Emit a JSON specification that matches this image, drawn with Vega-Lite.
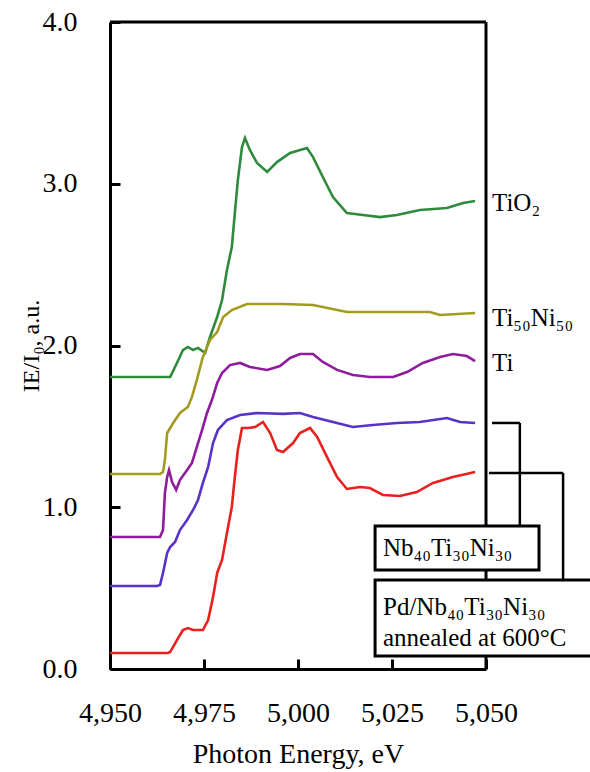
{
  "$schema": "https://vega.github.io/schema/vega-lite/v6.json",
  "autosize": {"type": "none"},
  "padding": {"left": 110, "top": 22, "right": 104, "bottom": 103},
  "width": 376,
  "height": 647,
  "background": "white",
  "config": {
    "view": {"stroke": null},
    "font": "Liberation Serif",
    "axis": {"grid": false},
    "text": {"fontWeight": "normal"}
  },
  "datasets": {
    "one": [{}],
    "spectra": [
      {"s": "TiO2", "x": 4950, "y": 1.805}, {"s": "TiO2", "x": 4966.0, "y": 1.805}, {"s": "TiO2", "x": 4967.8, "y": 1.892}, {"s": "TiO2", "x": 4969.4, "y": 1.972}, {"s": "TiO2", "x": 4970.7, "y": 1.991}, {"s": "TiO2", "x": 4972.1, "y": 1.972}, {"s": "TiO2", "x": 4973.4, "y": 1.985}, {"s": "TiO2", "x": 4975.3, "y": 1.954}, {"s": "TiO2", "x": 4976.6, "y": 2.053}, {"s": "TiO2", "x": 4978.5, "y": 2.176}, {"s": "TiO2", "x": 4979.8, "y": 2.281}, {"s": "TiO2", "x": 4981.1, "y": 2.467}, {"s": "TiO2", "x": 4982.4, "y": 2.609}, {"s": "TiO2", "x": 4983.2, "y": 2.819}, {"s": "TiO2", "x": 4984.0, "y": 3.023}, {"s": "TiO2", "x": 4985.1, "y": 3.227}, {"s": "TiO2", "x": 4985.9, "y": 3.283}, {"s": "TiO2", "x": 4987.2, "y": 3.209}, {"s": "TiO2", "x": 4989.1, "y": 3.128}, {"s": "TiO2", "x": 4991.8, "y": 3.073}, {"s": "TiO2", "x": 4994.4, "y": 3.134}, {"s": "TiO2", "x": 4997.9, "y": 3.190}, {"s": "TiO2", "x": 5002.4, "y": 3.221}, {"s": "TiO2", "x": 5004.0, "y": 3.165}, {"s": "TiO2", "x": 5006.6, "y": 3.042}, {"s": "TiO2", "x": 5009.3, "y": 2.918}, {"s": "TiO2", "x": 5013.0, "y": 2.819}, {"s": "TiO2", "x": 5017.3, "y": 2.807}, {"s": "TiO2", "x": 5021.8, "y": 2.794}, {"s": "TiO2", "x": 5026.3, "y": 2.807}, {"s": "TiO2", "x": 5032.4, "y": 2.838}, {"s": "TiO2", "x": 5039.6, "y": 2.850}, {"s": "TiO2", "x": 5043.9, "y": 2.881}, {"s": "TiO2", "x": 5047.1, "y": 2.893},

      {"s": "Ti50Ni50", "x": 4950, "y": 1.206}, {"s": "Ti50Ni50", "x": 4963.3, "y": 1.206}, {"s": "Ti50Ni50", "x": 4964.1, "y": 1.218}, {"s": "Ti50Ni50", "x": 4964.6, "y": 1.292}, {"s": "Ti50Ni50", "x": 4965.2, "y": 1.459}, {"s": "Ti50Ni50", "x": 4966.8, "y": 1.521}, {"s": "Ti50Ni50", "x": 4968.6, "y": 1.583}, {"s": "Ti50Ni50", "x": 4970.7, "y": 1.620}, {"s": "Ti50Ni50", "x": 4971.8, "y": 1.682}, {"s": "Ti50Ni50", "x": 4973.1, "y": 1.787}, {"s": "Ti50Ni50", "x": 4974.7, "y": 1.929}, {"s": "Ti50Ni50", "x": 4976.6, "y": 2.034}, {"s": "Ti50Ni50", "x": 4978.5, "y": 2.083}, {"s": "Ti50Ni50", "x": 4980.1, "y": 2.176}, {"s": "Ti50Ni50", "x": 4982.4, "y": 2.219}, {"s": "Ti50Ni50", "x": 4986.4, "y": 2.257}, {"s": "Ti50Ni50", "x": 4996.0, "y": 2.257}, {"s": "Ti50Ni50", "x": 5004.0, "y": 2.250}, {"s": "Ti50Ni50", "x": 5013.0, "y": 2.207}, {"s": "Ti50Ni50", "x": 5021.8, "y": 2.207}, {"s": "Ti50Ni50", "x": 5035.1, "y": 2.207}, {"s": "Ti50Ni50", "x": 5037.8, "y": 2.189}, {"s": "Ti50Ni50", "x": 5047.1, "y": 2.201},

      {"s": "Ti", "x": 4950, "y": 0.816}, {"s": "Ti", "x": 4963.3, "y": 0.816}, {"s": "Ti", "x": 4964.1, "y": 0.859}, {"s": "Ti", "x": 4964.6, "y": 1.088}, {"s": "Ti", "x": 4965.2, "y": 1.187}, {"s": "Ti", "x": 4965.7, "y": 1.230}, {"s": "Ti", "x": 4966.5, "y": 1.156}, {"s": "Ti", "x": 4967.6, "y": 1.107}, {"s": "Ti", "x": 4968.6, "y": 1.168}, {"s": "Ti", "x": 4970.5, "y": 1.230}, {"s": "Ti", "x": 4971.8, "y": 1.274}, {"s": "Ti", "x": 4973.1, "y": 1.373}, {"s": "Ti", "x": 4974.5, "y": 1.478}, {"s": "Ti", "x": 4975.8, "y": 1.583}, {"s": "Ti", "x": 4977.1, "y": 1.663}, {"s": "Ti", "x": 4978.5, "y": 1.768}, {"s": "Ti", "x": 4979.8, "y": 1.830}, {"s": "Ti", "x": 4981.9, "y": 1.879}, {"s": "Ti", "x": 4984.6, "y": 1.892}, {"s": "Ti", "x": 4987.2, "y": 1.867}, {"s": "Ti", "x": 4991.8, "y": 1.849}, {"s": "Ti", "x": 4995.2, "y": 1.873}, {"s": "Ti", "x": 4997.9, "y": 1.923}, {"s": "Ti", "x": 5000.5, "y": 1.947}, {"s": "Ti", "x": 5004.0, "y": 1.947}, {"s": "Ti", "x": 5006.6, "y": 1.898}, {"s": "Ti", "x": 5010.4, "y": 1.849}, {"s": "Ti", "x": 5014.6, "y": 1.818}, {"s": "Ti", "x": 5019.1, "y": 1.805}, {"s": "Ti", "x": 5025.3, "y": 1.805}, {"s": "Ti", "x": 5029.0, "y": 1.836}, {"s": "Ti", "x": 5033.2, "y": 1.892}, {"s": "Ti", "x": 5037.8, "y": 1.929}, {"s": "Ti", "x": 5041.2, "y": 1.947}, {"s": "Ti", "x": 5044.9, "y": 1.935}, {"s": "Ti", "x": 5047.1, "y": 1.904},

      {"s": "Nb40Ti30Ni30", "x": 4950, "y": 0.513}, {"s": "Nb40Ti30Ni30", "x": 4962.5, "y": 0.513}, {"s": "Nb40Ti30Ni30", "x": 4963.3, "y": 0.519}, {"s": "Nb40Ti30Ni30", "x": 4964.1, "y": 0.594}, {"s": "Nb40Ti30Ni30", "x": 4965.2, "y": 0.717}, {"s": "Nb40Ti30Ni30", "x": 4966.0, "y": 0.754}, {"s": "Nb40Ti30Ni30", "x": 4967.3, "y": 0.785}, {"s": "Nb40Ti30Ni30", "x": 4968.6, "y": 0.859}, {"s": "Nb40Ti30Ni30", "x": 4970.5, "y": 0.921}, {"s": "Nb40Ti30Ni30", "x": 4972.1, "y": 0.983}, {"s": "Nb40Ti30Ni30", "x": 4973.4, "y": 1.045}, {"s": "Nb40Ti30Ni30", "x": 4974.7, "y": 1.150}, {"s": "Nb40Ti30Ni30", "x": 4976.1, "y": 1.249}, {"s": "Nb40Ti30Ni30", "x": 4977.4, "y": 1.397}, {"s": "Nb40Ti30Ni30", "x": 4978.7, "y": 1.478}, {"s": "Nb40Ti30Ni30", "x": 4981.1, "y": 1.539}, {"s": "Nb40Ti30Ni30", "x": 4984.6, "y": 1.570}, {"s": "Nb40Ti30Ni30", "x": 4989.1, "y": 1.583}, {"s": "Nb40Ti30Ni30", "x": 4996.0, "y": 1.577}, {"s": "Nb40Ti30Ni30", "x": 5000.5, "y": 1.583}, {"s": "Nb40Ti30Ni30", "x": 5004.0, "y": 1.558}, {"s": "Nb40Ti30Ni30", "x": 5009.3, "y": 1.527}, {"s": "Nb40Ti30Ni30", "x": 5014.6, "y": 1.496}, {"s": "Nb40Ti30Ni30", "x": 5019.9, "y": 1.508}, {"s": "Nb40Ti30Ni30", "x": 5026.3, "y": 1.521}, {"s": "Nb40Ti30Ni30", "x": 5032.4, "y": 1.527}, {"s": "Nb40Ti30Ni30", "x": 5039.6, "y": 1.552}, {"s": "Nb40Ti30Ni30", "x": 5043.1, "y": 1.527}, {"s": "Nb40Ti30Ni30", "x": 5047.1, "y": 1.521},

      {"s": "Pd/Nb40Ti30Ni30", "x": 4950, "y": 0.099}, {"s": "Pd/Nb40Ti30Ni30", "x": 4965.4, "y": 0.099}, {"s": "Pd/Nb40Ti30Ni30", "x": 4966.0, "y": 0.105}, {"s": "Pd/Nb40Ti30Ni30", "x": 4967.8, "y": 0.179}, {"s": "Pd/Nb40Ti30Ni30", "x": 4969.4, "y": 0.241}, {"s": "Pd/Nb40Ti30Ni30", "x": 4970.7, "y": 0.253}, {"s": "Pd/Nb40Ti30Ni30", "x": 4972.1, "y": 0.241}, {"s": "Pd/Nb40Ti30Ni30", "x": 4974.7, "y": 0.241}, {"s": "Pd/Nb40Ti30Ni30", "x": 4976.1, "y": 0.303}, {"s": "Pd/Nb40Ti30Ni30", "x": 4977.4, "y": 0.445}, {"s": "Pd/Nb40Ti30Ni30", "x": 4978.5, "y": 0.594}, {"s": "Pd/Nb40Ti30Ni30", "x": 4979.8, "y": 0.674}, {"s": "Pd/Nb40Ti30Ni30", "x": 4981.1, "y": 0.841}, {"s": "Pd/Nb40Ti30Ni30", "x": 4982.4, "y": 1.002}, {"s": "Pd/Nb40Ti30Ni30", "x": 4983.2, "y": 1.187}, {"s": "Pd/Nb40Ti30Ni30", "x": 4984.0, "y": 1.354}, {"s": "Pd/Nb40Ti30Ni30", "x": 4985.1, "y": 1.490}, {"s": "Pd/Nb40Ti30Ni30", "x": 4986.7, "y": 1.490}, {"s": "Pd/Nb40Ti30Ni30", "x": 4988.6, "y": 1.496}, {"s": "Pd/Nb40Ti30Ni30", "x": 4990.7, "y": 1.527}, {"s": "Pd/Nb40Ti30Ni30", "x": 4992.6, "y": 1.459}, {"s": "Pd/Nb40Ti30Ni30", "x": 4994.4, "y": 1.354}, {"s": "Pd/Nb40Ti30Ni30", "x": 4996.0, "y": 1.342}, {"s": "Pd/Nb40Ti30Ni30", "x": 4998.7, "y": 1.397}, {"s": "Pd/Nb40Ti30Ni30", "x": 5000.5, "y": 1.459}, {"s": "Pd/Nb40Ti30Ni30", "x": 5003.2, "y": 1.490}, {"s": "Pd/Nb40Ti30Ni30", "x": 5005.1, "y": 1.434}, {"s": "Pd/Nb40Ti30Ni30", "x": 5007.7, "y": 1.311}, {"s": "Pd/Nb40Ti30Ni30", "x": 5010.4, "y": 1.187}, {"s": "Pd/Nb40Ti30Ni30", "x": 5013.0, "y": 1.113}, {"s": "Pd/Nb40Ti30Ni30", "x": 5016.5, "y": 1.125}, {"s": "Pd/Nb40Ti30Ni30", "x": 5019.1, "y": 1.119}, {"s": "Pd/Nb40Ti30Ni30", "x": 5022.6, "y": 1.076}, {"s": "Pd/Nb40Ti30Ni30", "x": 5027.1, "y": 1.070}, {"s": "Pd/Nb40Ti30Ni30", "x": 5031.6, "y": 1.094}, {"s": "Pd/Nb40Ti30Ni30", "x": 5035.9, "y": 1.150}, {"s": "Pd/Nb40Ti30Ni30", "x": 5041.2, "y": 1.187}, {"s": "Pd/Nb40Ti30Ni30", "x": 5047.1, "y": 1.218}
    ]
  },
  "layer": [
    {
      "data": {"name": "spectra"},
      "mark": {"type": "line", "strokeWidth": 2.6, "clip": true},
      "encoding": {
        "x": {
          "field": "x", "type": "quantitative",
          "scale": {"domain": [4950, 5050], "nice": false, "zero": false},
          "axis": {
            "values": [4950, 4975, 5000, 5025, 5050],
            "labelExpr": "format(datum.value, ',')",
            "domainColor": "black", "domainWidth": 3,
            "tickColor": "black", "tickWidth": 3, "tickSize": -10,
            "labelFont": "Liberation Serif", "labelFontSize": 28, "labelColor": "black",
            "labelPadding": 40, "labelFlush": false,
            "title": "Photon Energy, eV", "titleFont": "Liberation Serif", "titleFontSize": 28,
            "titleFontWeight": "normal", "titleColor": "black",
            "titleBaseline": "alphabetic", "titleY": 93
          }
        },
        "y": {
          "field": "y", "type": "quantitative",
          "scale": {"domain": [0, 4], "nice": false},
          "axis": {
            "values": [0, 1, 2, 3, 4],
            "labelExpr": "format(datum.value, '.1f')",
            "domainColor": "black", "domainWidth": 3,
            "tickColor": "black", "tickWidth": 3, "tickSize": -10,
            "labelFont": "Liberation Serif", "labelFontSize": 28, "labelColor": "black",
            "labelPadding": 43, "labelFlush": false,
            "title": "IE/I₀, a.u.", "titleFont": "Liberation Serif", "titleFontSize": 24,
            "titleFontWeight": "normal", "titleColor": "black",
            "titleBaseline": "alphabetic", "titleX": -72
          }
        },
        "color": {
          "field": "s", "type": "nominal", "legend": null,
          "scale": {
            "domain": ["TiO2", "Ti50Ni50", "Ti", "Nb40Ti30Ni30", "Pd/Nb40Ti30Ni30"],
            "range": ["#2f8a3c", "#a39b1f", "#8e1c9c", "#5a32c8", "#e8211f"]
          }
        }
      }
    },
    {
      "data": {"name": "one"},
      "mark": {"type": "rule", "stroke": "black", "strokeWidth": 3},
      "encoding": {"y": {"datum": 4, "type": "quantitative"}}
    },
    {
      "data": {"name": "one"},
      "mark": {"type": "rule", "stroke": "black", "strokeWidth": 3},
      "encoding": {"x": {"datum": 5050, "type": "quantitative"}}
    },
    {
      "data": {"name": "one"},
      "mark": {"type": "rule", "stroke": "black", "strokeWidth": 2.5},
      "encoding": {
        "x": {"datum": 5051.6, "type": "quantitative"}, "x2": {"datum": 5059.0},
        "y": {"datum": 1.521, "type": "quantitative"}
      }
    },
    {
      "data": {"name": "one"},
      "mark": {"type": "rule", "stroke": "black", "strokeWidth": 2.5},
      "encoding": {
        "x": {"datum": 5059.0, "type": "quantitative"},
        "y": {"datum": 1.521, "type": "quantitative"}, "y2": {"datum": 0.884}
      }
    },
    {
      "data": {"name": "one"},
      "mark": {"type": "rule", "stroke": "black", "strokeWidth": 2.5},
      "encoding": {
        "x": {"datum": 5050.8, "type": "quantitative"}, "x2": {"datum": 5070.5},
        "y": {"datum": 1.212, "type": "quantitative"}
      }
    },
    {
      "data": {"name": "one"},
      "mark": {"type": "rule", "stroke": "black", "strokeWidth": 2.5},
      "encoding": {
        "x": {"datum": 5070.5, "type": "quantitative"},
        "y": {"datum": 1.212, "type": "quantitative"}, "y2": {"datum": 0.55}
      }
    },
    {
      "data": {"name": "one"},
      "mark": {"type": "rect", "fill": "white", "stroke": "black", "strokeWidth": 3},
      "encoding": {
        "x": {"datum": 5020.5, "type": "quantitative"}, "x2": {"datum": 5064.1},
        "y": {"datum": 0.884, "type": "quantitative"}, "y2": {"datum": 0.612}
      }
    },
    {
      "data": {"name": "one"},
      "mark": {"type": "rect", "fill": "white", "stroke": "black", "strokeWidth": 3},
      "encoding": {
        "x": {"datum": 5020.5, "type": "quantitative"}, "x2": {"datum": 5079.5},
        "y": {"datum": 0.55, "type": "quantitative"}, "y2": {"datum": 0.08}
      }
    },
    {
      "data": {"name": "one"},
      "mark": {"type": "text", "text": "Nb₄₀Ti₃₀Ni₃₀", "align": "left", "baseline": "middle", "font": "Liberation Serif", "fontSize": 25, "fontWeight": "normal", "fill": "black"},
      "encoding": {"x": {"datum": 5022.6, "type": "quantitative"}, "y": {"datum": 0.748, "type": "quantitative"}}
    },
    {
      "data": {"name": "one"},
      "mark": {"type": "text", "text": ["Pd/Nb₄₀Ti₃₀Ni₃₀", "annealed at 600°C"], "lineHeight": 31, "align": "left", "baseline": "middle", "font": "Liberation Serif", "fontSize": 25, "fontWeight": "normal", "fill": "black"},
      "encoding": {"x": {"datum": 5022.6, "type": "quantitative"}, "y": {"datum": 0.383, "type": "quantitative"}}
    },
    {
      "data": {"name": "one"},
      "mark": {"type": "text", "text": "TiO₂", "align": "left", "baseline": "middle", "dx": 6, "font": "Liberation Serif", "fontSize": 25, "fontWeight": "normal", "fill": "black"},
      "encoding": {"x": {"datum": 5050, "type": "quantitative"}, "y": {"datum": 2.88, "type": "quantitative"}}
    },
    {
      "data": {"name": "one"},
      "mark": {"type": "text", "text": "Ti₅₀Ni₅₀", "align": "left", "baseline": "middle", "dx": 6, "font": "Liberation Serif", "fontSize": 25, "fontWeight": "normal", "fill": "black"},
      "encoding": {"x": {"datum": 5050, "type": "quantitative"}, "y": {"datum": 2.17, "type": "quantitative"}}
    },
    {
      "data": {"name": "one"},
      "mark": {"type": "text", "text": "Ti", "align": "left", "baseline": "middle", "dx": 6, "font": "Liberation Serif", "fontSize": 25, "fontWeight": "normal", "fill": "black"},
      "encoding": {"x": {"datum": 5050, "type": "quantitative"}, "y": {"datum": 1.89, "type": "quantitative"}}
    }
  ]
}
